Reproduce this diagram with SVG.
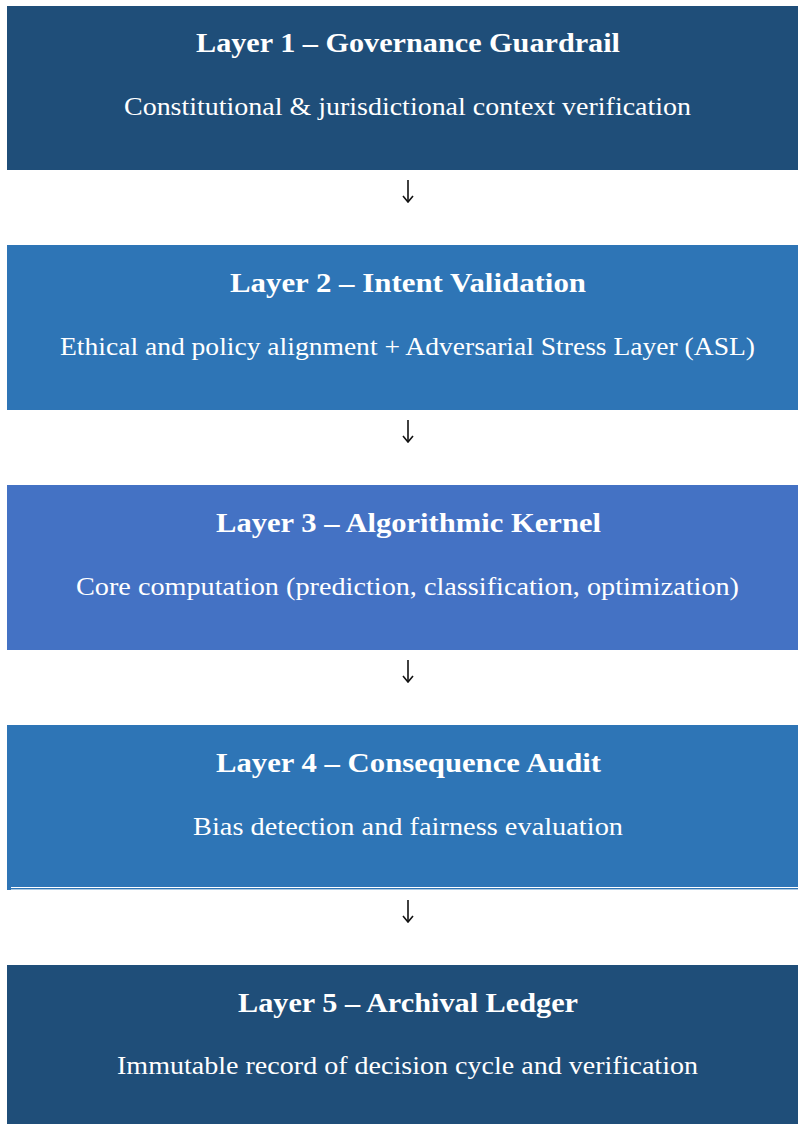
<svg xmlns="http://www.w3.org/2000/svg" width="798" height="1124" viewBox="0 0 798 1124">
<defs>
<style>
.dark{fill:#1F4E79}
.mid{fill:#2E75B6}
.light{fill:#4472C4}
.t{font-family:"Liberation Serif","DejaVu Serif",serif;font-weight:bold;font-size:28px;fill:#FFFFFF;text-anchor:middle}
.s{font-family:"Liberation Serif","DejaVu Serif",serif;font-size:25px;fill:#FFFFFF;text-anchor:middle}
.conn{stroke:#111111;stroke-width:1.6;fill:none}
</style>
<marker id="ah" viewBox="0 0 8 12" refX="7" refY="6" markerWidth="8" markerHeight="12" markerUnits="userSpaceOnUse" orient="auto">
<path d="M1,1 L7,6 L1,11" fill="none" stroke="#111111" stroke-width="1.6"/>
</marker>
</defs>
<rect x="0" y="0" width="798" height="1124" fill="#FFFFFF"/>
<g id="layer1">
<rect class="dark" x="7" y="6" width="791" height="164"/>
<text class="t" x="408" y="52" textLength="424" lengthAdjust="spacingAndGlyphs">Layer 1 – Governance Guardrail</text>
<text class="s" x="407.5" y="115" textLength="567" lengthAdjust="spacingAndGlyphs">Constitutional &amp; jurisdictional context verification</text>
</g>
<g id="layer2">
<rect class="mid" x="7" y="245" width="791" height="165"/>
<text class="t" x="408" y="292" textLength="356" lengthAdjust="spacingAndGlyphs">Layer 2 – Intent Validation</text>
<text class="s" x="407.5" y="355" textLength="695" lengthAdjust="spacingAndGlyphs">Ethical and policy alignment + Adversarial Stress Layer (ASL)</text>
</g>
<g id="layer3">
<rect class="light" x="7" y="485" width="791" height="165"/>
<text class="t" x="408.5" y="532" textLength="385" lengthAdjust="spacingAndGlyphs">Layer 3 – Algorithmic Kernel</text>
<text class="s" x="407.5" y="595" textLength="663" lengthAdjust="spacingAndGlyphs">Core computation (prediction, classification, optimization)</text>
</g>
<g id="layer4">
<rect class="mid" x="7" y="725" width="791" height="162"/>
<rect class="mid" x="7" y="888" width="791" height="1.4"/>
<rect class="mid" x="7" y="887" width="4" height="3"/>
<text class="t" x="408.5" y="772" textLength="385" lengthAdjust="spacingAndGlyphs">Layer 4 – Consequence Audit</text>
<text class="s" x="408" y="835" textLength="430" lengthAdjust="spacingAndGlyphs">Bias detection and fairness evaluation</text>
</g>
<g id="layer5">
<rect class="dark" x="7" y="965" width="791" height="159"/>
<text class="t" x="408" y="1012" textLength="340" lengthAdjust="spacingAndGlyphs">Layer 5 – Archival Ledger</text>
<text class="s" x="407.5" y="1074" textLength="581" lengthAdjust="spacingAndGlyphs">Immutable record of decision cycle and verification</text>
</g>
<g id="connectors">
<path class="conn" d="M408,180 V202" marker-end="url(#ah)"/>
<path class="conn" d="M408,420 V442" marker-end="url(#ah)"/>
<path class="conn" d="M408,660 V682" marker-end="url(#ah)"/>
<path class="conn" d="M408,900 V922" marker-end="url(#ah)"/>
</g>
</svg>
